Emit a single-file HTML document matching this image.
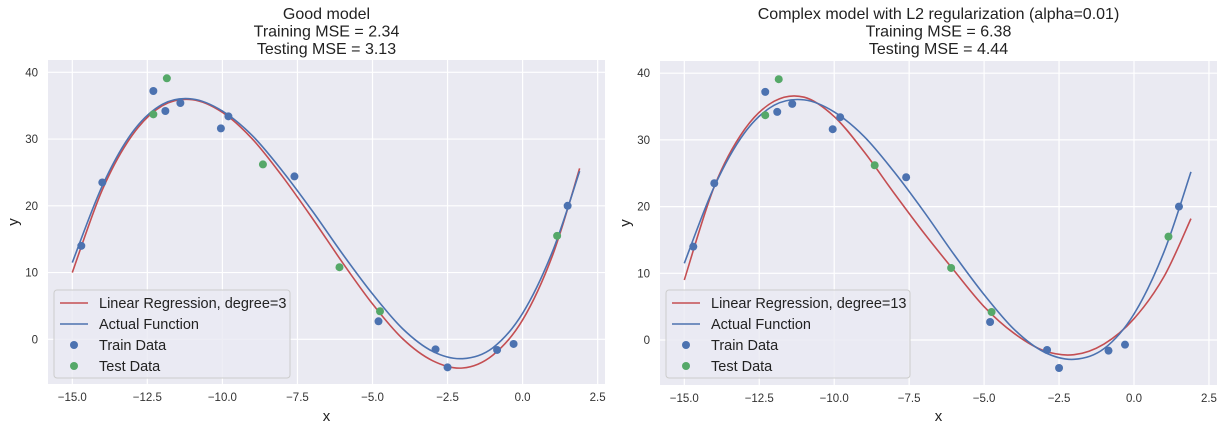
<!DOCTYPE html>
<html><head><meta charset="utf-8"><style>
body{margin:0;background:#fff;font-family:"Liberation Sans",sans-serif;}
svg text{font-family:"Liberation Sans",sans-serif;}
</style></head><body>
<svg id="fig" width="1224" height="431" xmlns="http://www.w3.org/2000/svg"></svg>
<script>
const curveX = [-15,-14,-13,-12,-11,-10,-9,-8,-7,-6,-5,-4,-3,-2,-1,0,1,1.9];
const actualY = [11.5,23,31,35.2,36,34.2,30.5,25.2,19.2,12.8,6.8,1.6,-1.8,-2.9,-1.3,3.9,13.2,25.2];
const deg3Y = [10,22.4,30.6,35,35.9,34,30,24.4,18.1,11.5,5.3,0.1,-3.2,-4.3,-2.4,2.9,12.6,25.6];
const deg13Y = [9,23,31.5,35.8,36.4,33.5,28.2,22,16,10.4,5,1,-1.6,-2.2,-0.6,3.2,9.5,18.2];
const trainX = [-14.7,-14,-12.3,-11.9,-11.4,-10.05,-9.8,-7.6,-4.8,-2.9,-2.5,-0.85,-0.3,1.5];
const trainY = [14,23.5,37.2,34.2,35.4,31.6,33.4,24.4,2.7,-1.5,-4.2,-1.6,-0.7,20];
const testX = [-12.3,-11.85,-8.65,-6.1,-4.75,1.15];
const testY = [33.7,39.1,26.2,10.8,4.2,15.5];
const xTicks = [-15,-12.5,-10,-7.5,-5,-2.5,0,2.5];
const xTickLabels = ["\u221215.0","\u221212.5","\u221210.0","\u22127.5","\u22125.0","\u22122.5","0.0","2.5"];
const yTicks = [0,10,20,30,40];
const yTickLabels = ["0","10","20","30","40"];

const NS="http://www.w3.org/2000/svg";
const fig=document.getElementById('fig');
function mk(tag,attrs,parent){const e=document.createElementNS(NS,tag);for(const k in attrs)e.setAttribute(k,attrs[k]);(parent||fig).appendChild(e);return e;}

function panel(p){
  const g=mk('g',{});
  
  
  const X=v=>p.x0+(v+15)*p.sx, Y=v=>p.y0-v*p.sy;
  const bg=mk('rect',{x:p.l,y:p.t,width:p.r-p.l,height:p.b-p.t,fill:'#eaeaf2'},g);
  
  
  xTicks.forEach((v,i)=>{
    mk('line',{x1:X(v),x2:X(v),y1:p.t,y2:p.b,stroke:'#fff','stroke-width':1.2},g);
    const t=mk('text',{x:X(v),y:p.b+17,'font-size':11.5,fill:'#333','text-anchor':'middle'},g);
    t.textContent=xTickLabels[i];
    
    
  });
  yTicks.forEach((v,i)=>{
    mk('line',{x1:p.l,x2:p.r,y1:Y(v),y2:Y(v),stroke:'#fff','stroke-width':1.2},g);
    const t=mk('text',{x:p.l-10,y:Y(v)+4,'font-size':11.5,fill:'#333','text-anchor':'end'},g);
    t.textContent=yTickLabels[i];
    
    
  });
  function line(ys,col,name){
    const pts=curveX.map((x,i)=>[X(x),Y(ys[i])]);
    let d='M'+pts[0][0]+','+pts[0][1];
    for(let i=0;i<pts.length-1;i++){
      const p0=pts[Math.max(0,i-1)],p1=pts[i],p2=pts[i+1],p3=pts[Math.min(pts.length-1,i+2)];
      d+=' C'+(p1[0]+(p2[0]-p0[0])/6)+','+(p1[1]+(p2[1]-p0[1])/6)+' '+(p2[0]-(p3[0]-p1[0])/6)+','+(p2[1]-(p3[1]-p1[1])/6)+' '+p2[0]+','+p2[1];
    }
    const e=mk('path',{d:d,fill:'none',stroke:col,'stroke-width':1.6},g);
    
    
  }
  line(p.model,'#c44e52','regression-line');
  line(actualY,'#4c72b0','actual-function-line');
  trainX.forEach((x,i)=>{const c=mk('circle',{cx:X(x),cy:Y(trainY[i]),r:4,fill:'#4c72b0'},g);
    
    });
  testX.forEach((x,i)=>{const c=mk('circle',{cx:X(x),cy:Y(testY[i]),r:4,fill:'#55a868'},g);
    
    });
  p.title.forEach((s,i)=>{const t=mk('text',{x:(p.l+p.r)/2,y:19+i*17.5,'font-size':16,fill:'#222','text-anchor':'middle'},g);
    t.textContent=s;
    
    });
  const xl=mk('text',{x:(p.l+p.r)/2,y:421,'font-size':15,fill:'#222','text-anchor':'middle'},g);xl.textContent='x';
  
  
  const yl=mk('text',{x:0,y:0,'font-size':15,fill:'#222','text-anchor':'middle',transform:'translate('+(p.l-30)+','+((p.t+p.b)/2)+') rotate(-90)'},g);yl.textContent='y';
  
  
  const lg=mk('g',{},g);
  
  
  const lx=p.l+6, ly=290;
  mk('rect',{x:lx,y:ly,width:p.legW,height:88,rx:3,fill:'#eaeaf2',stroke:'#cccccc','stroke-width':1,'fill-opacity':0.8},lg);
  const items=[[p.label,'#c44e52','line'],['Actual Function','#4c72b0','line'],['Train Data','#4c72b0','dot'],['Test Data','#55a868','dot']];
  items.forEach((it,i)=>{
    const yy=ly+13+i*21;
    const e=mk('g',{},lg);
    
    
    if(it[2]==='line') mk('line',{x1:lx+6,x2:lx+34,y1:yy,y2:yy,stroke:it[1],'stroke-width':1.6},e);
    else mk('circle',{cx:lx+20,cy:yy,r:4,fill:it[1]},e);
    const t=mk('text',{x:lx+45,y:yy+5,'font-size':14.5,fill:'#222'},e);t.textContent=it[0];
  });
}
panel({name:'good-model-panel',l:48,r:605,t:60,b:384,x0:72.3,sx:30.02,y0:339.3,sy:6.675,model:deg3Y,
  title:['Good model','Training MSE = 2.34','Testing MSE = 3.13'],label:'Linear Regression, degree=3',legW:236});
panel({name:'complex-model-panel',l:660,r:1217,t:61,b:385,x0:684.3,sx:29.98,y0:340,sy:6.67,model:deg13Y,
  title:['Complex model with L2 regularization (alpha=0.01)','Training MSE = 6.38','Testing MSE = 4.44'],label:'Linear Regression, degree=13',legW:244});
</script>
</body></html>
